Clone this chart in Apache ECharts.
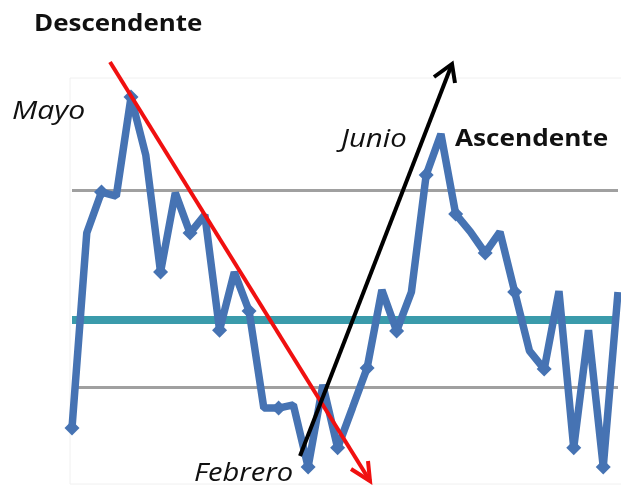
<!DOCTYPE html>
<html>
<head>
<meta charset="utf-8">
<script src="https://cdn.jsdelivr.net/npm/echarts@6/dist/echarts.min.js"></script>
<style>
  html, body { margin: 0; padding: 0; background: #fff; }
  #chart { width: 621px; height: 485px; }
</style>
</head>
<body>
<div id="chart"></div>
<script>
// price series (arbitrary 0-100 scale)
const periods = Array.from({ length: 38 }, (_, i) => String(i + 1));
const prices = [
  13.8, 61.8, 71.9, 70.9, 95.3, 81.0, 52.2, 71.7, 61.8, 66.3,
  37.9, 52.2, 42.6, 18.7, 18.7, 19.5, 4.2, 24.4, 8.9, 18.7,
  28.6, 47.8, 37.7, 47.3, 76.1, 86.2, 66.5, 62.1, 56.9, 62.1,
  47.3, 32.8, 28.3, 47.5, 8.9, 37.9, 4.2, 47.3
];
const upperBand = 72.4;
const meanLine = 40.4;
const lowerBand = 23.9;

const chart = echarts.init(document.getElementById("chart"));

const textBold = { fontFamily: "Open Sans", fontWeight: "bold", fontSize: 24, fill: "#111" };
const textItalic = { fontFamily: "Open Sans", fontStyle: "italic", fontSize: 26, fill: "#111" };

chart.setOption({
  backgroundColor: "#fff",
  animation: false,
  grid: { left: 72, right: 3, top: 78, bottom: 1 },
  xAxis: {
    type: "category",
    data: periods,
    boundaryGap: false,
    show: false,
  },
  yAxis: {
    type: "value",
    min: 0,
    max: 100,
    show: false,
  },
  series: [
    {
      type: "line",
      data: prices,
      symbol: "diamond",
      symbolSize: 15,
      clip: false,
      lineStyle: { color: "#4673b3", width: 7.5 },
      itemStyle: { color: "#4673b3" },
      markLine: {
        silent: true,
        symbol: "none",
        label: { show: false },
        z: 1,
        data: [
          { yAxis: upperBand, lineStyle: { color: "#a0a0a0", width: 3, type: "solid" } },
          { yAxis: lowerBand, lineStyle: { color: "#a0a0a0", width: 3, type: "solid" } },
          { yAxis: meanLine, lineStyle: { color: "#3a9bab", width: 8, type: "solid" } },
        ],
      },
      z: 2,
    },
  ],
  graphic: [
    {
      type: "rect",
      shape: { x: 70, y: 78, width: 560, height: 406 },
      style: { fill: "none", stroke: "#f0f0f0", lineWidth: 1 },
      z: 0,
      silent: true,
    },
    // red "Descendente" arrow
    { type: "line", shape: { x1: 110, y1: 62, x2: 370, y2: 481 }, style: { stroke: "#f01010", lineWidth: 4 }, z: 10 },
    { type: "polyline", shape: { points: [[351, 469], [370, 481], [368, 461]] }, style: { stroke: "#f01010", lineWidth: 4, fill: "none" }, z: 10 },
    // black "Ascendente" arrow
    { type: "line", shape: { x1: 300, y1: 456, x2: 452, y2: 64 }, style: { stroke: "#000", lineWidth: 4 }, z: 10 },
    { type: "polyline", shape: { points: [[434, 77], [452, 64], [455, 83]] }, style: { stroke: "#000", lineWidth: 4, fill: "none" }, z: 10 },
    // labels
    { type: "text", x: 34, y: 12, scaleX: 1.08, style: Object.assign({ text: "Descendente" }, textBold), z: 11 },
    { type: "text", x: 12, y: 99, scaleX: 1.16, style: Object.assign({ text: "Mayo" }, textItalic), z: 11 },
    { type: "text", x: 341, y: 127, scaleX: 1.13, style: Object.assign({ text: "Junio" }, textItalic), z: 11 },
    { type: "text", x: 455, y: 127, scaleX: 1.09, style: Object.assign({ text: "Ascendente" }, textBold), z: 11 },
    { type: "text", x: 194, y: 461, scaleX: 1.12, style: Object.assign({ text: "Febrero" }, textItalic), z: 11 },
  ],
});
</script>
</body>
</html>
